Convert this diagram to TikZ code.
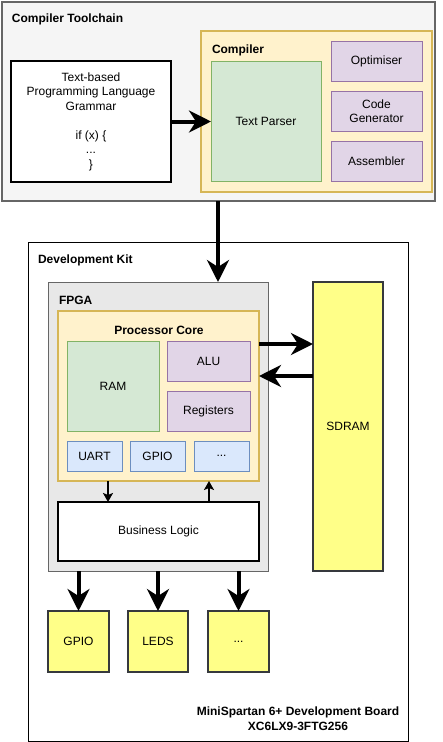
\documentclass[tikz,border=0pt]{standalone}
\usepackage{fontspec}
\setmainfont{Liberation Sans}
\usetikzlibrary{arrows.meta,calc}
\begin{document}
\begin{tikzpicture}[x=1pt,y=-1pt,
  every node/.style={font=\fontsize{12}{14.5}\selectfont, inner sep=0pt, outer sep=0pt},
  box/.style={draw, rectangle, anchor=north west, align=center},
  grn/.style={box, fill=green1, draw=green2, line width=1pt},
  pur/.style={box, fill=pur1, draw=pur2, line width=1pt},
  blu/.style={box, fill=blu1, draw=blu2, line width=1pt},
  ylw/.style={box, fill=yel1, draw=yel2, line width=2pt},
  title/.style={font=\bfseries\fontsize{12}{14.5}\selectfont, anchor=west},
  bigarrow/.style={line width=4pt, -{Stealth[length=22pt,width=22pt,inset=7pt]}},
  smallarrow/.style={line width=2pt, -{Stealth[length=9pt,width=10pt,inset=2pt]}}
]
\definecolor{green1}{HTML}{D5E8D4}\definecolor{green2}{HTML}{82B366}
\definecolor{pur1}{HTML}{E1D5E7}\definecolor{pur2}{HTML}{9673A6}
\definecolor{blu1}{HTML}{DAE8FC}\definecolor{blu2}{HTML}{6C8EBF}
\definecolor{yel1}{HTML}{FFFF88}\definecolor{yel2}{HTML}{36393D}
\definecolor{core1}{HTML}{FFF2CC}\definecolor{core2}{HTML}{D6B656}
\definecolor{tool1}{HTML}{F5F5F5}\definecolor{grey2}{HTML}{666666}
\definecolor{fpga1}{HTML}{E8E8E8}
\useasboundingbox (0,0) rectangle (442,742);
% Toolchain
\node[box, fill=tool1, draw=grey2, line width=2pt, minimum width=433pt, minimum height=199pt] (tool) at (2,2) {};
\node[title] (tooltitle) at (12,19) {Compiler Toolchain};
\node[box, fill=white, draw=black, line width=1.3pt, minimum width=160pt, minimum height=121pt] (txt) at (11,61)
  {Text-based\\Programming Language\\Grammar\\[14.5pt]if (x) \{\\...\\\}};
\node[box, fill=core1, draw=core2, line width=2pt, minimum width=231pt, minimum height=161pt] (comp) at (201,31) {};
\node[title] (comptitle) at (212,50) {Compiler};
\node[grn, minimum width=110pt, minimum height=120pt] (parser) at (211,61) {Text Parser};
\node[pur, minimum width=91pt, minimum height=40pt] (opt) at (331,41) {Optimiser};
\node[pur, minimum width=91pt, minimum height=40pt] (cg) at (331,91) {Code\\Generator};
\node[pur, minimum width=91pt, minimum height=40pt] (asm) at (331,141) {Assembler};
% Development kit
\node[box, fill=white, draw=black, line width=1pt, minimum width=380pt, minimum height=499pt] (dev) at (28,242) {};
\node[title] (devtitle) at (38,260) {Development Kit};
\node[box, fill=fpga1, draw=grey2, line width=1pt, minimum width=220pt, minimum height=289pt] (fpga) at (48,282) {};
\node[title] (fpgatitle) at (59,300) {FPGA};
\node[box, fill=core1, draw=core2, line width=2pt, minimum width=201pt, minimum height=170pt] (core) at (58,311) {};
\node[font=\bfseries\fontsize{12}{14.5}\selectfont] (coretitle) at (159,330) {Processor Core};
\node[grn, minimum width=92pt, minimum height=90pt] (ram) at (67,341) {RAM};
\node[pur, minimum width=83pt, minimum height=40pt] (alu) at (167,341) {ALU};
\node[pur, minimum width=83pt, minimum height=40pt] (reg) at (167,391) {Registers};
\node[blu, minimum width=55pt, minimum height=30pt] (uart) at (67,441) {UART};
\node[blu, minimum width=55pt, minimum height=30pt] (gpio1) at (130,441) {GPIO};
\node[blu, minimum width=55pt, minimum height=30pt] (etc1) at (194,441) {...};
\node[box, fill=white, draw=black, line width=2pt, minimum width=201pt, minimum height=59pt] (bl) at (58,502) {Business Logic};
\node[ylw, minimum width=70pt, minimum height=289pt] (sdram) at (313,282) {SDRAM};
\node[ylw, minimum width=61pt, minimum height=61pt] (gpio2) at (48,611) {GPIO};
\node[ylw, minimum width=60pt, minimum height=61pt] (leds) at (128,611) {LEDS};
\node[ylw, minimum width=61pt, minimum height=61pt] (etc2) at (208,611) {...};
\node[font=\bfseries\fontsize{12}{15}\selectfont, align=center] (board) at (298,719) {MiniSpartan 6+ Development Board\\XC6LX9-3FTG256};
% coordinates
\coordinate (xa) at (218,0);
\coordinate (ya) at (0,344);
\coordinate (yb) at (0,376);
\coordinate (xd) at (108,0);
\coordinate (xu) at (209,0);
% arrows
\draw[bigarrow] (txt.east) -- (parser.west |- txt.east);
\draw[bigarrow] (tool.south -| xa) -- (fpga.north -| xa);
\draw[bigarrow] (core.east |- ya) -- (sdram.west |- ya);
\draw[bigarrow] (sdram.west |- yb) -- (core.east |- yb);
\draw[smallarrow] (core.south -| xd) -- (bl.north -| xd);
\draw[smallarrow] (bl.north -| xu) -- (core.south -| xu);
\draw[bigarrow] (fpga.south -| gpio2.north) -- (gpio2.north);
\draw[bigarrow] (fpga.south -| leds.north) -- (leds.north);
\draw[bigarrow] (fpga.south -| etc2.north) -- (etc2.north);
\end{tikzpicture}
\end{document}
